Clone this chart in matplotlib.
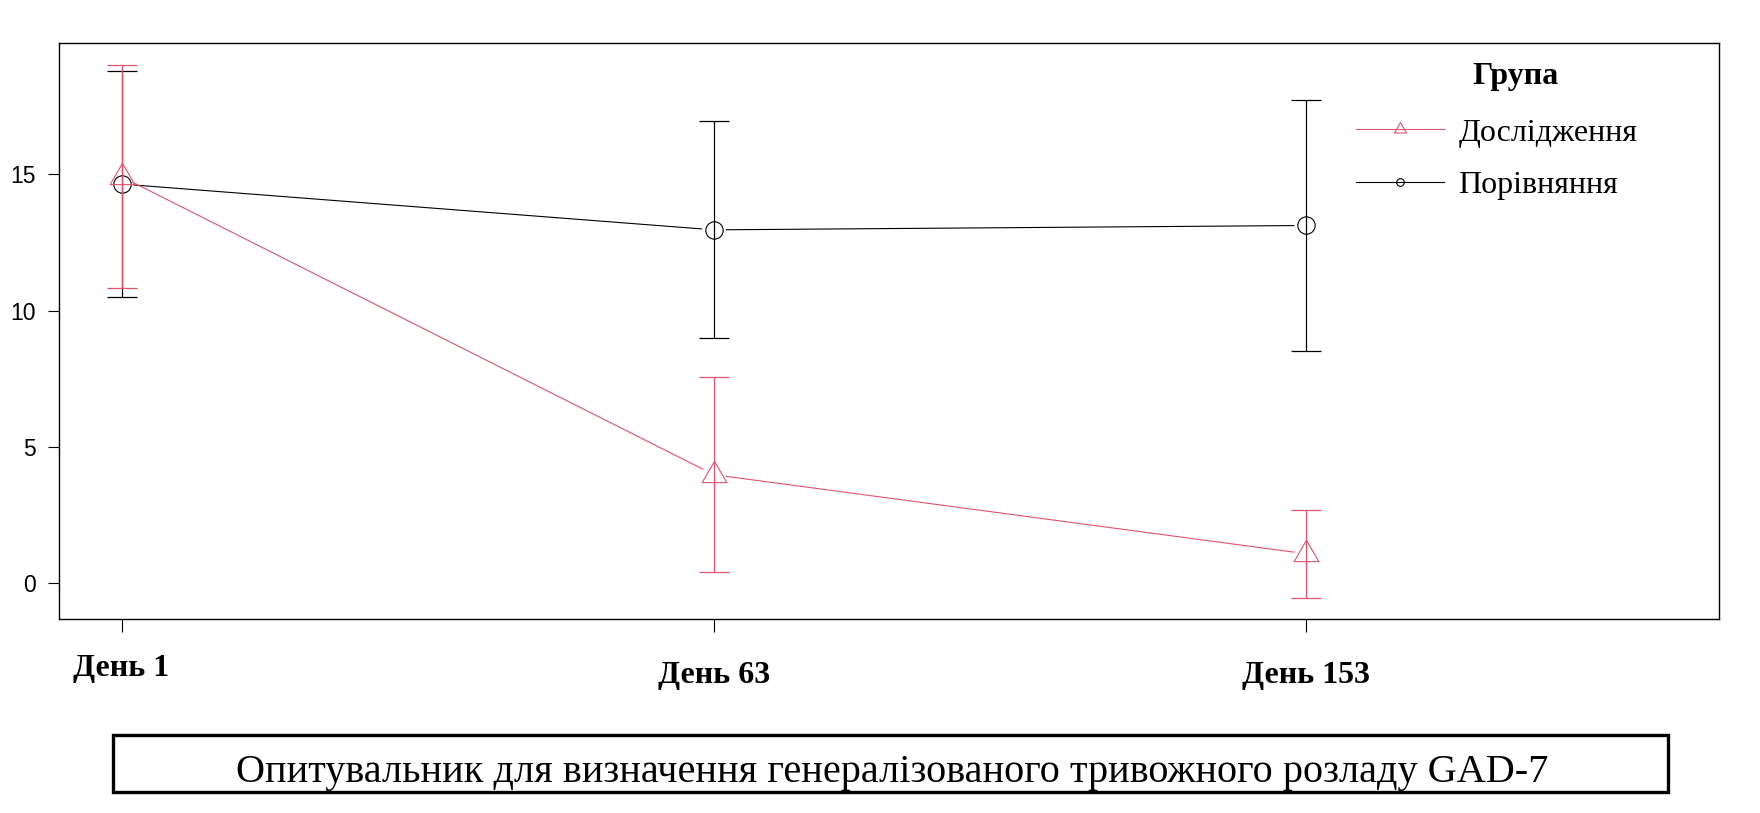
import matplotlib
matplotlib.use("Agg")
import numpy as np
import matplotlib.pyplot as plt
from matplotlib.lines import Line2D
from matplotlib.patches import Rectangle
from matplotlib.transforms import ScaledTranslation

# --- data ---
days = ["День 1", "День 63", "День 153"]
x_pos = [1, 2, 3]

study_mean = [14.91, 3.98, 1.08]
study_err = [4.09, 3.58, 1.62]

comp_mean = [14.64, 12.96, 13.12]
comp_err = [4.15, 3.98, 4.59]

group_title = "Група"
group_labels = ["Дослідження", "Порівняння"]
caption = "Опитувальник для визначення генералізованого тривожного розладу GAD-7"

RED = "#DF536B"
BLACK = "black"
SERIF = "Liberation Serif"
SANS = "Liberation Sans"
TRI = [(0, 1), (-0.866, -0.5), (0.866, -0.5), (0, 1)]
GAP_PX = 12.5  # R type="b": line stops short of each point


def gapped_line(ax, xs, ys, **kw):
    """Connect points like R's type='b' (segments leave a gap round each point)."""
    pts = ax.transData.transform(np.column_stack([xs, ys]))
    inv = ax.transData.inverted()
    for p0, p1 in zip(pts[:-1], pts[1:]):
        d = p1 - p0
        u = d / np.hypot(*d)
        seg = inv.transform(np.array([p0 + u * GAP_PX, p1 - u * GAP_PX]))
        ax.plot(seg[:, 0], seg[:, 1], **kw)


fig = plt.figure(figsize=(17.6, 8.13), dpi=100)
ax = fig.add_axes([0.0337, 0.2383, 0.9432, 0.7084])
ax.set_xlim(0.895, 3.697)
ax.set_ylim(-1.32, 19.80)

# comparison group first, study group on top
for mean, err, col, mk, ms in [(comp_mean, comp_err, BLACK, "o", 12.5),
                               (study_mean, study_err, RED, TRI, 20.5)]:
    ax.errorbar(x_pos, mean, yerr=err, fmt="none", ecolor=col,
                elinewidth=0.9, capsize=11, capthick=0.9)
    ax.plot(x_pos, mean, ls="none", marker=mk, ms=ms, mfc="none", mec=col, mew=0.8)
    gapped_line(ax, x_pos, mean, color=col, lw=0.8)

for s in ax.spines.values():
    s.set_linewidth(1.0)

ax.set_yticks([0, 5, 10, 15])
ax.tick_params(axis="y", length=8, width=0.8, pad=9, labelsize=16.5)
for lab in ax.get_yticklabels():
    lab.set_fontfamily(SANS)

ax.set_xticks(x_pos)
ax.set_xticklabels(days, fontfamily=SERIF, fontweight="bold", fontsize=23)
ax.tick_params(axis="x", length=9, width=0.8, pad=21)
# first label sits a little higher in the original
day1 = ax.get_xticklabels()[0]
day1.set_transform(day1.get_transform() + ScaledTranslation(0, 7 / 100, fig.dpi_scale_trans))

# legend
handles = [
    Line2D([], [], color=RED, lw=0.8, marker=TRI, ms=10, mfc="none", mec=RED, mew=0.8),
    Line2D([], [], color=BLACK, lw=0.8, marker="o", ms=5.5, mfc="none", mec=BLACK, mew=0.8),
]
ax.legend(handles, group_labels, loc="upper left", bbox_to_anchor=(0.7811, 0.870),
          frameon=False, borderpad=0, borderaxespad=0, handlelength=2.75,
          handletextpad=0.45, labelspacing=0.72,
          prop={"family": SERIF, "size": 23})
ax.text(0.877, 0.929, group_title, transform=ax.transAxes, ha="center",
        va="baseline", fontfamily=SERIF, fontweight="bold", fontsize=23)

# caption box under the plot
fig.patches.append(Rectangle((0.064, 0.0255), 0.8835, 0.0705, transform=fig.transFigure,
                             fill=False, lw=2.4, ec="black"))
fig.text(0.507, 0.0385, caption, ha="center", va="baseline",
         fontfamily=SERIF, fontsize=29)

fig.savefig("out.png", dpi=100)
